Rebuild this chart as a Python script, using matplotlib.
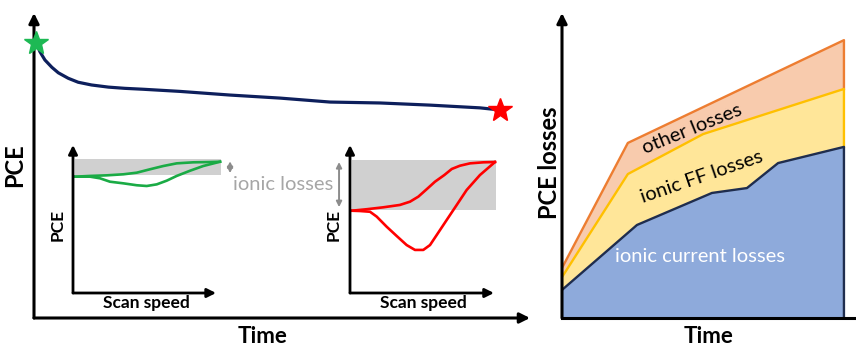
import matplotlib.pyplot as plt
import numpy as np

plt.rcParams['font.family'] = ['Lato', 'DejaVu Sans']

# PCE over time (main panel), arbitrary units 0-100
time = [0.4, 1.2, 2.2, 3.6, 4.9, 6.9, 8.9, 11.6, 15.0, 18.3, 22.0, 29.4, 39.5, 49.6, 59.7, 69.8, 79.8, 89.9, 94.0]
pce = [90.3, 87.3, 84.6, 82.2, 80.4, 78.6, 77.3, 76.4, 75.7, 75.3, 75.0, 74.3, 73.1, 72.1, 70.8, 70.5, 69.8, 68.9, 68.2]

# scan-speed hysteresis, fresh device (inset 1)
fresh_up_x = [1.3, 11.4, 22.6, 33.8, 42.8, 51.7, 60.6, 69.6, 80.7, 91.9, 98.7]
fresh_up_y = [78.6, 79.1, 79.5, 80.2, 81.3, 83.6, 85.8, 87.6, 88.3, 88.5, 88.7]
fresh_dn_x = [1.3, 11.4, 18.1, 24.8, 33.8, 42.8, 49.5, 56.2, 62.9, 69.6, 78.5, 87.4, 98.7]
fresh_dn_y = [78.6, 78.6, 77.5, 75.2, 74.1, 72.8, 72.3, 73.4, 75.9, 79.1, 82.6, 85.8, 88.7]
fresh_band = (79.5, 90.3)

# scan-speed hysteresis, aged device (inset 2)
aged_up_x = [1.2, 11.4, 22.8, 34.2, 41.1, 46.8, 52.5, 58.2, 64.6, 69.7, 75.3, 82.2, 91.3, 99.3]
aged_up_y = [55.6, 56.6, 57.9, 59.5, 61.7, 65.1, 70.1, 75.2, 79.7, 83.8, 86.0, 87.6, 88.3, 88.5]
aged_dn_x = [1.2, 6.8, 13.7, 18.3, 25.1, 32.0, 38.8, 44.5, 50.2, 54.8, 59.4, 66.2, 73.1, 79.9, 89.0, 99.3]
aged_dn_y = [55.6, 55.4, 54.9, 51.6, 44.8, 38.5, 32.4, 29.1, 29.1, 32.4, 39.2, 49.3, 59.5, 69.6, 79.7, 88.5]
aged_band = (56.1, 89.9)

# stacked PCE losses (right panel), cumulative boundaries
cur_x = [0, 25.5, 51.0, 62.9, 73.5, 95.9]
cur_y = [9.2, 30.5, 41.0, 42.6, 50.8, 56.1]
ff_x = [0, 22.4, 48.0, 95.9]
ff_y = [13.4, 47.2, 60.3, 75.1]
oth_x = [0, 22.4, 95.9]
oth_y = [16.4, 57.4, 91.1]

W, H = 856, 347
fig = plt.figure(figsize=(W / 100, H / 100), dpi=100)


def px_axes(x0, y0, x1, y1):
    # axes placed from a pixel box: (x0, y0) top-left, (x1, y1) bottom-right
    ax = fig.add_axes([x0 / W, (H - y1) / H, (x1 - x0) / W, (y1 - y0) / H])
    ax.set_xlim(0, 100)
    ax.set_ylim(0, 100)
    ax.axis('off')
    return ax


def arrows(ax, xtip, ytip, lw=2.2, ms=15):
    kw = dict(arrowstyle='-|>', color='black', lw=lw, mutation_scale=ms, shrinkA=0, shrinkB=0)
    ax.annotate('', xy=(0, ytip), xytext=(0, 0), arrowprops=kw, annotation_clip=False)
    ax.annotate('', xy=(xtip, 0), xytext=(0, 0), arrowprops=kw, annotation_clip=False)


def dbl_arrow(ax, x, y0, y1):
    ax.annotate('', xy=(x, y1), xytext=(x, y0), annotation_clip=False,
                arrowprops=dict(arrowstyle='<|-|>', color='#8c8c8c', lw=1.4,
                                mutation_scale=8, shrinkA=0, shrinkB=0))


# main panel
ax = px_axes(34, 13, 530, 318)
arrows(ax, 100, 100)
ax.plot(time, pce, color='#0d1f5c', lw=2.3, solid_capstyle='round', solid_joinstyle='round', clip_on=False)
ax.plot(time[0], pce[0], marker='*', color='#1db954', markersize=18, clip_on=False, zorder=5)
ax.plot(time[-1], pce[-1], marker='*', color='#ff0000', markersize=18, clip_on=False, zorder=5)
ax.text(46, -6.0, 'Time', ha='center', va='center', fontsize=16, fontweight='bold')
ax.text(-4.0, 50, 'PCE', ha='center', va='center', rotation=90, fontsize=17, fontweight='bold')
ax.text(50.2, 43.9, 'ionic losses', ha='center', va='center', fontsize=14.5, color='#a6a6a6')

# inset 1: fresh device
a1 = px_axes(73, 145, 222, 293)
a1.fill_between([1.5, 99], fresh_band[0], fresh_band[1], color='#d0d0d0', lw=0)
a1.plot(fresh_up_x, fresh_up_y, color='#1aab45', lw=1.9, solid_joinstyle='round', clip_on=False)
a1.plot(fresh_dn_x, fresh_dn_y, color='#1aab45', lw=1.9, solid_joinstyle='round', clip_on=False)
arrows(a1, 96, 100, lw=2.0, ms=13)
dbl_arrow(a1, 105.4, 81, 89)
a1.text(-10, 46, 'PCE', ha='center', va='center', rotation=90, fontsize=12.5, fontweight='bold')
a1.text(49.5, -7, 'Scan speed', ha='center', va='center', fontsize=12.5, fontweight='bold')

# inset 2: aged device
a2 = px_axes(350, 145, 496, 293)
a2.fill_between([1.4, 100], aged_band[0], aged_band[1], color='#d0d0d0', lw=0)
a2.plot(aged_up_x, aged_up_y, color='#ff0000', lw=1.9, solid_joinstyle='round', clip_on=False)
a2.plot(aged_dn_x, aged_dn_y, color='#ff0000', lw=1.9, solid_joinstyle='round', clip_on=False)
arrows(a2, 98.6, 100, lw=2.0, ms=13)
dbl_arrow(a2, -7.5, 58, 88.5)
a2.text(-11, 46, 'PCE', ha='center', va='center', rotation=90, fontsize=12.5, fontweight='bold')
a2.text(50, -7, 'Scan speed', ha='center', va='center', fontsize=12.5, fontweight='bold')

# right panel: stacked losses
ar = px_axes(562, 13, 856, 318)
ar.fill(cur_x + [cur_x[-1], 0], cur_y + [0, 0], color='#8eaadb', lw=0)
ar.fill(ff_x + cur_x[::-1], ff_y + cur_y[::-1], color='#ffe699', lw=0)
ar.fill(oth_x + ff_x[::-1], oth_y + ff_y[::-1], color='#f8cbad', lw=0)
ar.plot(oth_x + [oth_x[-1]], oth_y + [ff_y[-1]], color='#ed7d31', lw=1.7)
ar.plot(ff_x + [ff_x[-1]], ff_y + [cur_y[-1]], color='#ffc000', lw=1.7)
ar.plot(cur_x + [cur_x[-1]], cur_y + [0], color='#1f2d4e', lw=1.7)
kw = dict(arrowstyle='-|>', color='black', lw=2.2, mutation_scale=15, shrinkA=0, shrinkB=0)
ar.annotate('', xy=(0, 100), xytext=(0, 0), arrowprops=kw, annotation_clip=False)
ar.plot([0, 100], [0, 0], color='black', lw=2.2, clip_on=False)
ar.text(44.2, 61.8, 'other losses', ha='center', va='center', rotation=22, fontsize=14.5)
ar.text(47.6, 46.4, 'ionic FF losses', ha='center', va='center', rotation=19, fontsize=14.5)
ar.text(46.9, 20, 'ionic current losses', ha='center', va='center', fontsize=14.5, color='white')
ar.text(-4.4, 50.8, 'PCE losses', ha='center', va='center', rotation=90, fontsize=17, fontweight='bold')
ar.text(49.7, -6.0, 'Time', ha='center', va='center', fontsize=16, fontweight='bold')

fig.savefig('out.png', dpi=100)
